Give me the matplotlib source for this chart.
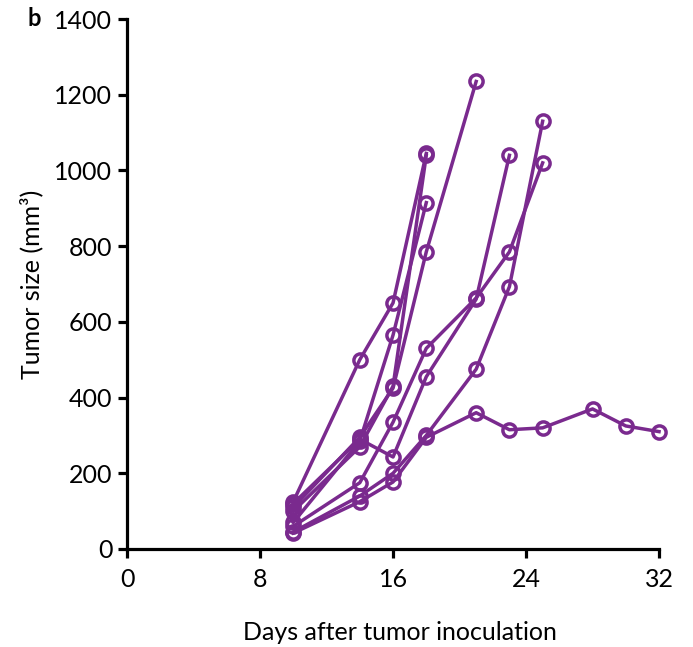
import matplotlib
matplotlib.use("Agg")
from matplotlib import pyplot as plt

plt.rcParams['font.family'] = ['Lato', 'DejaVu Sans']

purple = '#7a2a8e'

# tumor size per mouse (days, mm^3)
m1_days = [10, 14, 16, 18]
m1_size = [125, 500, 650, 1045]
m2_days = [10, 14, 16, 18, 21]
m2_size = [110, 295, 425, 785, 1235]
m3_days = [10, 14, 16, 18]
m3_size = [100, 270, 430, 1040]
m4_days = [10, 14, 16, 18]
m4_size = [70, 285, 565, 915]
m5_days = [10, 14, 16, 18, 21, 23, 25]
m5_size = [60, 175, 335, 530, 663, 785, 1020]
m6_days = [10, 14, 16, 18, 21, 23]
m6_size = [120, 290, 243, 455, 660, 1040]
m7_days = [10, 14, 16, 18, 21, 23, 25]
m7_size = [45, 140, 200, 300, 475, 693, 1130]
m8_days = [10, 14, 16, 18, 21, 23, 25, 28, 30, 32]
m8_size = [42, 125, 177, 295, 360, 315, 320, 370, 325, 310]

mice = [(m1_days, m1_size), (m2_days, m2_size), (m3_days, m3_size),
        (m4_days, m4_size), (m5_days, m5_size), (m6_days, m6_size),
        (m7_days, m7_size), (m8_days, m8_size)]

fig = plt.figure(figsize=(6.93, 6.47), dpi=100)
ax = fig.add_axes([0.1833, 0.1515, 0.7677, 0.8191])

for days, size in mice:
    ax.plot(days, size, color=purple, lw=2.5, marker='o', ms=9.5,
            mfc='none', mec=purple, mew=2.5, clip_on=False)

ax.set_xlim(0, 32)
ax.set_ylim(0, 1400)
ax.set_xticks([0, 8, 16, 24, 32])
ax.set_yticks(range(0, 1401, 200))
for s in ['top', 'right']:
    ax.spines[s].set_visible(False)
for s in ['left', 'bottom']:
    ax.spines[s].set_linewidth(2.3)
ax.tick_params(width=2.3, length=6.5, labelsize=18)
ax.tick_params(axis='x', pad=7)
ax.tick_params(axis='y', pad=4)

ax.set_xlabel('Days after tumor inoculation', fontsize=18, labelpad=19)
ax.xaxis.set_label_coords(0.513, -0.135)
ax.set_ylabel('Tumor size (mm³)', fontsize=18, labelpad=8)

fig.text(0.05, 0.972, 'b', fontsize=17, fontweight='bold', ha='center', va='center')

fig.savefig('out.png', dpi=100)
